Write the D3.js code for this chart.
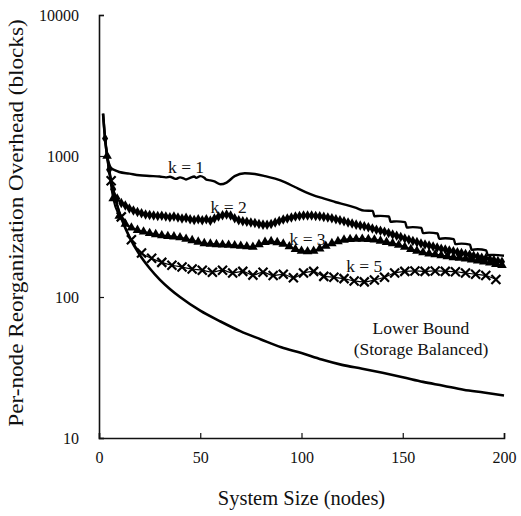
<!DOCTYPE html>
<html>
<head>
<meta charset="utf-8">
<script src="https://cdn.jsdelivr.net/npm/d3@7"></script>
<style>
  body { margin: 0; background: #fff; }
  svg text { font-family: "Liberation Serif", "Times New Roman", serif; fill: #111; }
</style>
</head>
<body>
<svg id="canvas" width="521" height="516"></svg>
<script>
var width = 521;
var height = 516;
var margins = { left: 99, right: 17, top: 15, bottom: 78 };

// Lower bound (storage balanced)
var lbX = [2, 3, 4, 5, 6, 7, 8, 10, 12, 15, 20, 25, 30, 35, 40, 50, 60, 70, 80, 90, 100, 110, 120, 130, 140, 150, 160, 170, 180, 190, 200];
var lbY = [2000, 1333, 1000, 800, 667, 571, 500, 400, 333, 267, 200, 160, 133, 114, 100, 80, 67, 57, 50, 44, 40, 36, 33, 31, 29, 27, 25, 23.5, 22, 21, 20];

// k = 1 (plain line, stepped towards the end)
var k1X = [2, 3, 4, 5, 6, 8, 10, 15, 20, 25, 30, 33, 35, 37, 38, 40, 42, 43, 45, 47, 48, 50, 52, 53, 55, 57, 60, 63, 67, 72, 77, 82, 87, 92, 97, 102, 107, 112, 117, 122, 127,
  131, 135.2, 136, 139, 143.2, 144, 147, 151.2, 152, 155, 159.2, 160, 163, 167.2, 168, 171, 175.2, 176, 179, 183.2, 184, 187, 191.2, 192, 195, 200];
var k1Y = [2000, 1333, 1000, 880, 820, 790, 770, 750, 730, 722, 715, 705, 712, 695, 688, 705, 690, 682, 700, 715, 700, 720, 700, 680, 672, 660, 630, 648, 720, 755, 745, 720, 690, 650, 600, 555, 520, 495, 470, 450, 428,
  410, 408, 374, 376, 372, 342, 344, 340, 311, 313, 309, 284, 286, 282, 259, 261, 257, 237, 239, 235, 216, 218, 214, 198, 199, 196];

// k = 2 (diamonds)
var k2X = [3, 5, 7, 9, 11, 13, 15, 17, 19, 21, 23, 25, 27, 29, 31, 33, 35, 37, 39, 41, 43, 45, 47, 49, 51, 53, 55, 57, 59, 61, 63, 65, 67, 69, 71, 73, 75, 77, 79, 81, 83, 85, 87, 89, 91, 93, 95, 97, 99, 101, 103, 105, 107, 109, 111, 113, 115, 117, 119, 121, 123, 125, 127, 129, 131, 133, 135, 137, 139, 141, 143, 145, 147, 149, 151, 153, 155, 157, 159, 161, 163, 165, 167, 169, 171, 173, 175, 177, 179, 181, 183, 185, 187, 189, 191, 193, 195, 197, 199];
var k2Y = [1333, 800, 580, 500, 465, 445, 425, 410, 400, 392, 385, 382, 378, 375, 377, 372, 368, 372, 366, 360, 364, 356, 352, 356, 350, 356, 348, 360, 372, 380, 384, 378, 362, 350, 345, 342, 338, 335, 330, 326, 325, 330, 338, 346, 354, 360, 366, 372, 376, 378, 378, 378, 376, 374, 370, 366, 362, 356, 350, 345, 338, 332, 326, 322, 318, 312, 306, 300, 295, 290, 284, 278, 272, 266, 260, 255, 250, 245, 240, 236, 232, 228, 224, 220, 217, 214, 211, 208, 205, 202, 199, 196, 193, 190, 188, 185, 183, 180, 178];

// k = 3 (triangles)
var k3X = [4, 7, 10, 13, 16, 19, 22, 25, 28, 31, 34, 37, 40, 43, 46, 49, 52, 55, 58, 61, 64, 67, 70, 73, 76, 79, 82, 85, 88, 91, 94, 97, 100, 103, 106, 109, 112, 115, 118, 121, 124, 127, 130, 133, 136, 139, 142, 145, 148, 151, 154, 157, 160, 163, 166, 169, 172, 175, 178, 181, 184, 187, 190, 193, 196, 199];
var k3Y = [1000, 500, 375, 330, 310, 298, 290, 283, 278, 273, 270, 268, 264, 258, 252, 246, 240, 238, 236, 235, 234, 232, 230, 228, 226, 236, 245, 248, 244, 238, 228, 218, 212, 210, 212, 220, 230, 240, 248, 254, 257, 258, 258, 257, 255, 250, 245, 240, 234, 226, 218, 212, 207, 203, 200, 197, 194, 191, 189, 187, 184, 181, 178, 175, 171, 168];

// k = 5 (crosses)
var k5X = [6, 11, 16, 21, 26, 31, 36, 41, 46, 51, 56, 61, 66, 71, 76, 81, 86, 91, 96, 101, 106, 111, 116, 121, 126, 131, 136, 141, 146, 151, 156, 161, 166, 171, 176, 181, 186, 191, 196];
var k5Y = [667, 370, 255, 205, 188, 176, 168, 163, 158, 155, 150, 155, 148, 152, 143, 150, 142, 145, 137, 148, 152, 140, 138, 135, 130, 128, 132, 138, 148, 152, 153, 152, 153, 152, 151, 148, 145, 142, 133];

var xTicks = [0, 50, 100, 150, 200];
var yTicks = [10, 100, 1000, 10000];

var labels = [
  { text: "k = 1", x: 43, y: 760 },
  { text: "k = 2", x: 64, y: 395 },
  { text: "k = 3", x: 103, y: 232 },
  { text: "k = 5", x: 131, y: 150 },
  { text: "Lower Bound", x: 159, y: 55 },
  { text: "(Storage Balanced)", x: 159, y: 39 }
];

function zip(xs, ys) {
  return xs.map(function(x, i) { return { x: x, y: ys[i] }; });
}

var canvas = d3.select("#canvas");

var xScale = d3.scaleLinear()
  .domain([0, 200])
  .range([margins.left, width - margins.right]);

var yScale = d3.scaleLog()
  .domain([10, 10000])
  .range([height - margins.bottom, margins.top]);

// axes
canvas.append("g")
  .attr("transform", "translate(0," + (height - margins.bottom) + ")")
  .call(d3.axisBottom(xScale).tickValues(xTicks).tickSize(-5).tickPadding(14).tickFormat(d3.format("d")))
  .call(function(g) {
    g.attr("font-family", null);
    g.select(".domain").attr("stroke", "#111").attr("stroke-width", 1.6);
    g.selectAll(".tick line").attr("stroke", "#111").attr("stroke-width", 1.2);
    g.selectAll("text").attr("font-size", 16).attr("fill", "#111");
  });

canvas.append("g")
  .attr("transform", "translate(" + margins.left + ",0)")
  .call(d3.axisLeft(yScale).tickValues(yTicks).tickSize(-5).tickPadding(20).tickFormat(d3.format("d")))
  .call(function(g) {
    g.attr("font-family", null);
    g.select(".domain").attr("stroke", "#111").attr("stroke-width", 1.6);
    g.selectAll(".tick line").attr("stroke", "#111").attr("stroke-width", 1.2);
    g.selectAll("text").attr("font-size", 16).attr("fill", "#111");
  });

// axis titles
canvas.append("text")
  .attr("x", (margins.left + width - margins.right) / 2)
  .attr("y", 505)
  .attr("text-anchor", "middle")
  .attr("font-size", 20.5)
  .text("System Size (nodes)");

canvas.append("text")
  .attr("transform", "translate(23," + 223 + ") rotate(-90) scale(1.13,1)")
  .attr("text-anchor", "middle")
  .attr("font-size", 20.5)
  .text("Per-node Reorganization Overhead (blocks)");

var line = d3.line()
  .x(function(d) { return xScale(d.x); })
  .y(function(d) { return yScale(d.y); })
  .curve(d3.curveMonotoneX);

var plot = canvas.append("g");

// lower bound
plot.append("path")
  .datum(zip(lbX, lbY))
  .attr("d", line)
  .attr("fill", "none")
  .attr("stroke", "#000")
  .attr("stroke-width", 2.6);

// k = 1
plot.append("path")
  .datum(zip(k1X, k1Y))
  .attr("d", line)
  .attr("fill", "none")
  .attr("stroke", "#000")
  .attr("stroke-width", 2.4);

// k = 2
plot.append("path")
  .datum(zip(k2X, k2Y))
  .attr("d", line)
  .attr("fill", "none")
  .attr("stroke", "#000")
  .attr("stroke-width", 2);
plot.append("g")
  .selectAll("path")
  .data(zip(k2X, k2Y))
  .enter()
  .append("path")
  .attr("transform", function(d) { return "translate(" + xScale(d.x) + "," + yScale(d.y) + ")"; })
  .attr("d", d3.symbol().type(d3.symbolDiamond).size(32))
  .attr("fill", "#000");

// k = 3
plot.append("path")
  .datum(zip(k3X, k3Y))
  .attr("d", line)
  .attr("fill", "none")
  .attr("stroke", "#000")
  .attr("stroke-width", 2);
plot.append("g")
  .selectAll("path")
  .data(zip(k3X, k3Y))
  .enter()
  .append("path")
  .attr("transform", function(d) { return "translate(" + xScale(d.x) + "," + yScale(d.y) + ")"; })
  .attr("d", d3.symbol().type(d3.symbolTriangle).size(40))
  .attr("fill", "#000");

// k = 5
plot.append("path")
  .datum(zip(k5X, k5Y))
  .attr("d", line)
  .attr("fill", "none")
  .attr("stroke", "#000")
  .attr("stroke-width", 1.2);
plot.append("g")
  .selectAll("path")
  .data(zip(k5X, k5Y))
  .enter()
  .append("path")
  .attr("transform", function(d) { return "translate(" + xScale(d.x) + "," + yScale(d.y) + ")"; })
  .attr("d", "M-4.5,-4.5L4.5,4.5M-4.5,4.5L4.5,-4.5")
  .attr("fill", "none")
  .attr("stroke", "#000")
  .attr("stroke-width", 2.2);

// annotations
canvas.append("g")
  .selectAll("text")
  .data(labels)
  .enter()
  .append("text")
  .attr("x", function(d) { return xScale(d.x); })
  .attr("y", function(d) { return yScale(d.y); })
  .attr("text-anchor", "middle")
  .attr("font-size", 17.5)
  .text(function(d) { return d.text; });
</script>
</body>
</html>
